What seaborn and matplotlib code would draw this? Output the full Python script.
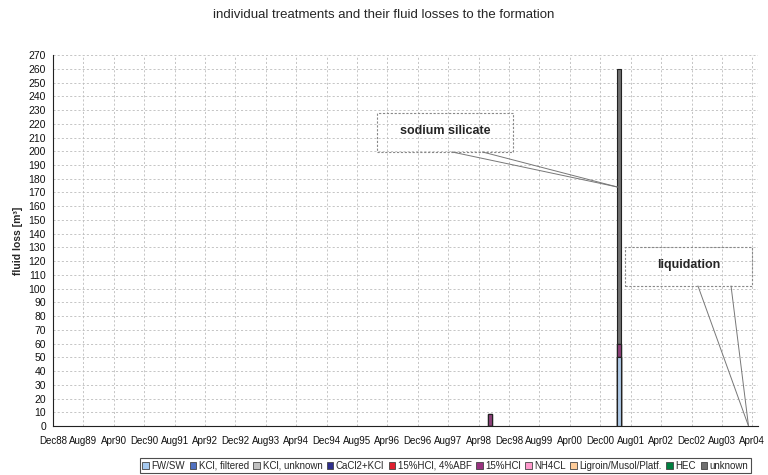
import pandas as pd
import matplotlib.pyplot as plt
import matplotlib.patches as mpatches
import seaborn as sns

# treatments (month, fluid, loss in m3)
TREAT_DATES = ["1998-07", "2001-05", "2001-05", "2001-05"]
TREAT_FLUIDS = ["15%HCl", "FW/SW", "15%HCl", "unknown"]
TREAT_LOSSES = [9, 50, 10, 200]

FLUIDS = ["FW/SW", "KCl, filtered", "KCl, unknown", "CaCl2+KCl", "15%HCl, 4%ABF",
          "15%HCl", "NH4CL", "Ligroin/Musol/Platf.", "HEC", "unknown"]
FLUID_COLORS = ["#a6caf0", "#5070c0", "#c0c0c0", "#2e2e8c", "#e02030",
                "#993380", "#ff99cc", "#ffcc99", "#008040", "#707070"]

START = "1988-12"
N_MONTHS = 186
TICK_STEP = 8


def build_frame():
    months = pd.period_range(START, periods=N_MONTHS, freq="M")
    labels = [m.strftime("%b%y") for m in months]
    df = pd.DataFrame({"date": pd.PeriodIndex(TREAT_DATES, freq="M").strftime("%b%y"),
                       "fluid": TREAT_FLUIDS, "loss": TREAT_LOSSES})
    wide = df.pivot_table(index="date", columns="fluid", values="loss", aggfunc="sum")
    wide = wide.reindex(columns=FLUIDS).fillna(0)
    cum = wide.cumsum(axis=1)
    return labels, cum


def draw_bars(ax, labels, cum):
    # stacked bars: draw cumulative tops from the top fluid down
    for fluid, color in reversed(list(zip(FLUIDS, FLUID_COLORS))):
        part = cum[fluid].reset_index()
        part.columns = ["date", "top"]
        sns.barplot(data=part, x="date", y="top", order=labels, color=color,
                    width=1.0, edgecolor="#222222", linewidth=0.8, ax=ax)


def callout(ax, text, x0, x1, y0, y1, root0, root1, target):
    box = mpatches.Rectangle((x0, y0), x1 - x0, y1 - y0, fill=False,
                             edgecolor="#888888", linestyle=(0, (2, 1.5)), lw=0.8, zorder=4)
    ax.add_patch(box)
    ax.text((x0 + x1) / 2, (y0 + y1) / 2 + 1, text, ha="center", va="center",
            fontsize=9, fontweight="bold", zorder=5)
    for rx in (root0, root1):
        ax.plot([rx, target[0]], [y0, target[1]], color="#777777", lw=0.7, zorder=4)


def main():
    sns.set_theme(style="white")
    plt.rcParams["font.family"] = ["Liberation Sans", "DejaVu Sans"]

    labels, cum = build_frame()

    fig = plt.figure(figsize=(7.68, 4.75), dpi=100)
    ax = fig.add_axes([0.069, 0.103, 0.918, 0.781])

    draw_bars(ax, labels, cum)

    ax.set_xlim(0, N_MONTHS - 0.5)
    ax.set_ylim(0, 270)
    ax.set_yticks(range(0, 271, 10))
    ticks = list(range(0, N_MONTHS, TICK_STEP))
    ax.set_xticks(ticks)
    ax.set_xticklabels([labels[i] for i in ticks], fontsize=7)
    ax.tick_params(axis="y", labelsize=7.5, length=3, width=0.8, direction="out", pad=2, colors="#111111")
    ax.tick_params(axis="x", length=6, width=0.8, direction="inout", pad=4, colors="#111111")
    ax.grid(True, color="#bbbbbb", linestyle=(0, (2.5, 2.5)), lw=0.6)
    ax.set_axisbelow(True)
    for side in ("top", "right"):
        ax.spines[side].set_visible(False)
    for side in ("left", "bottom"):
        ax.spines[side].set_color("#222222")
        ax.spines[side].set_linewidth(0.8)

    ax.set_xlabel("")
    ax.set_ylabel("fluid loss [m³]", fontsize=7.5, fontweight="bold", labelpad=4)
    fig.suptitle("individual treatments and their fluid losses to the formation",
                 fontsize=9.5, y=0.98)

    callout(ax, "sodium silicate", 85.3, 121, 199.5, 228, 105, 113, (148.5, 174))
    callout(ax, "liquidation", 150.5, 184, 102, 130, 169.7, 178.4, (183, 0))

    handles = [mpatches.Patch(facecolor=c, edgecolor="#444444", lw=0.6, label=f)
               for f, c in zip(FLUIDS, FLUID_COLORS)]
    leg = fig.legend(handles=handles, loc="lower center", bbox_to_anchor=(0.58, 0.0),
                     ncol=10, fontsize=7, frameon=True, fancybox=False,
                     handlelength=0.7, handleheight=0.7, handletextpad=0.25,
                     columnspacing=0.45, borderpad=0.25, borderaxespad=0.2)
    leg.get_frame().set_edgecolor("#222222")
    leg.get_frame().set_linewidth(0.8)

    fig.savefig("out.png", dpi=100)


if (__name__ == '__main__'):
    main()
